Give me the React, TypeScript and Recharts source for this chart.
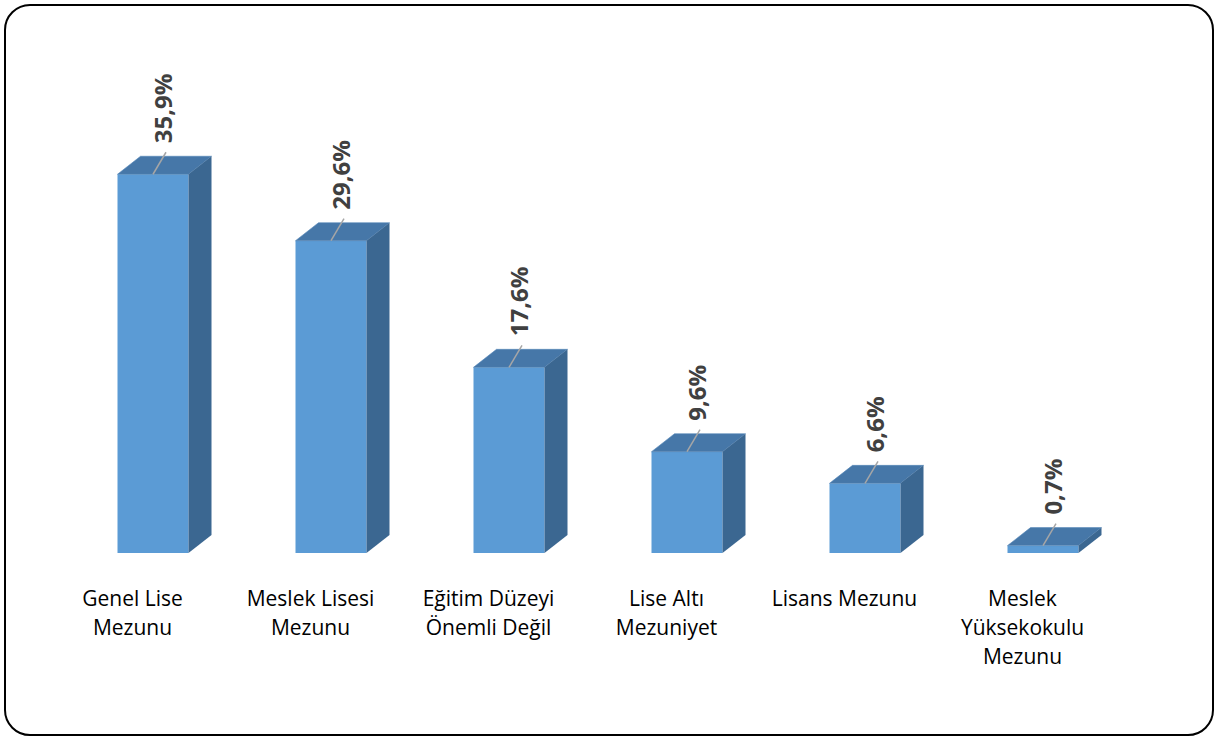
import { BarChart, Bar, XAxis, YAxis, LabelList } from 'recharts'

const categories = [
  'Genel Lise Mezunu',
  'Meslek Lisesi Mezunu',
  'Eğitim Düzeyi Önemli Değil',
  'Lise Altı Mezuniyet',
  'Lisans Mezunu',
  'Meslek Yüksekokulu Mezunu',
]

const tickLines = [
  ['Genel Lise', 'Mezunu'],
  ['Meslek Lisesi', 'Mezunu'],
  ['Eğitim Düzeyi', 'Önemli Değil'],
  ['Lise Altı', 'Mezuniyet'],
  ['Lisans Mezunu'],
  ['Meslek', 'Yüksekokulu', 'Mezunu'],
]

const values = [35.9, 29.6, 17.6, 9.6, 6.6, 0.7]

const data = categories.map((name, i) => ({ name, value: values[i] }))

// depth of the fake 3d box
const DX = 23
const DY = 18

function Box3D(props: any) {
  const { x, y, width: w, height: h } = props
  if (w == null || h == null) return null
  return (
    <g>
      <rect x={x} y={y} width={w} height={h} fill="#5B9BD5" />
      <polygon
        points={`${x},${y} ${x + DX},${y - DY} ${x + w + DX},${y - DY} ${x + w},${y}`}
        fill="#4677A8"
        stroke="#5486B8"
        strokeWidth={0.6}
      />
      <polygon
        points={`${x + w},${y} ${x + w + DX},${y - DY} ${x + w + DX},${y + h - DY} ${x + w},${y + h}`}
        fill="#3B6791"
      />
    </g>
  )
}

function ValueLabel(props: any) {
  const { x, y, width, value } = props
  const cx = x + width / 2
  const lx = cx + 10
  const ly = y - DY - 13
  const text = value.toFixed(1).replace('.', ',') + '%'
  return (
    <g>
      <line x1={cx} y1={y} x2={lx + 3} y2={y - DY - 4} stroke="#A6A6A6" strokeWidth={1.5} />
      <text
        x={lx}
        y={ly}
        transform={`rotate(-90 ${lx} ${ly})`}
        textAnchor="start"
        dominantBaseline="central"
        fontSize={24}
        fontWeight="bold"
        fill="#404040"
        fontFamily="Open Sans"
      >
        {text}
      </text>
    </g>
  )
}

function CategoryTick(props: any) {
  const { x, y, payload } = props
  const lines = tickLines[payload.index] || [payload.value]
  return (
    <text x={x - 20} y={y} textAnchor="middle" fontSize={21} fill="#000" fontFamily="Open Sans">
      {lines.map((line, i) => (
        <tspan key={i} x={x - 20} dy={i === 0 ? 53 : 29}>
          {line}
        </tspan>
      ))}
    </text>
  )
}

export default function App() {
  return (
    <div style={{ position: 'fixed', left: 0, top: 0, width: 1215, height: 738, background: '#fff' }}>
      <div
        style={{
          position: 'absolute',
          left: 4,
          top: 4,
          width: 1210,
          height: 732,
          boxSizing: 'border-box',
          border: '2px solid #000',
          borderRadius: 26,
        }}
      />
      <div style={{ position: 'absolute', left: 0, top: 0 }}>
        <BarChart
          width={1215}
          height={738}
          data={data}
          margin={{ top: 131, right: 83.5, bottom: 85, left: 63.5 }}
        >
          <XAxis
            dataKey="name"
            axisLine={false}
            tickLine={false}
            tickSize={0}
            tickMargin={0}
            height={100}
            interval={0}
            tick={<CategoryTick />}
          />
          <YAxis hide width={0} domain={[0, 40]} />
          <Bar dataKey="value" barSize={71} shape={<Box3D />} isAnimationActive={false}>
            <LabelList dataKey="value" content={<ValueLabel />} />
          </Bar>
        </BarChart>
      </div>
    </div>
  )
}
